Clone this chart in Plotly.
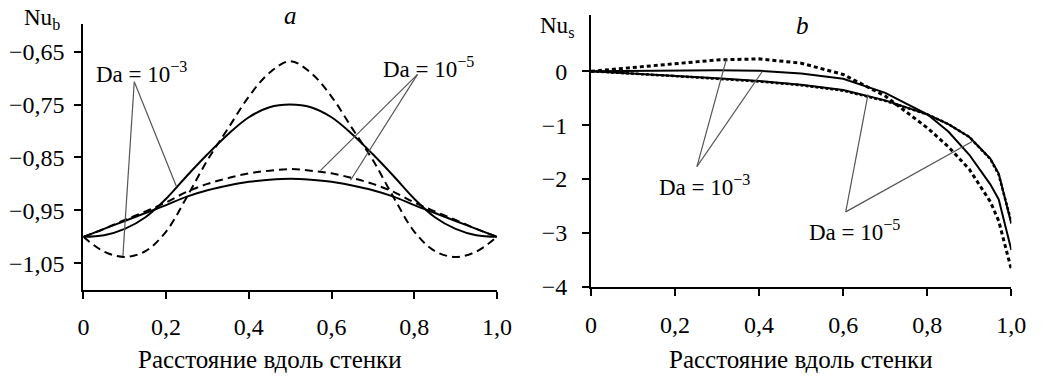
import plotly.graph_objects as go

# ---------------- data ----------------
x_a = [0.0, 0.05, 0.1, 0.15, 0.2, 0.25, 0.3, 0.35, 0.4, 0.45, 0.5,
       0.55, 0.6, 0.65, 0.7, 0.75, 0.8, 0.85, 0.9, 0.95, 1.0]
a_dash_1e3 = [-1.0, -1.028, -1.038, -1.027, -0.99, -0.925, -0.855, -0.795, -0.735, -0.69, -0.668,
              -0.69, -0.735, -0.795, -0.855, -0.925, -0.99, -1.027, -1.038, -1.028, -1.0]
a_solid_1e3 = [-1.0, -0.997, -0.985, -0.963, -0.928, -0.885, -0.844, -0.806, -0.774, -0.755, -0.75,
               -0.755, -0.774, -0.806, -0.844, -0.885, -0.928, -0.963, -0.985, -0.997, -1.0]
a_dash_1e5 = [-1.0, -0.985, -0.968, -0.952, -0.935, -0.915, -0.9, -0.889, -0.88, -0.875, -0.872,
              -0.875, -0.88, -0.889, -0.9, -0.915, -0.935, -0.952, -0.968, -0.985, -1.0]
a_solid_1e5 = [-1.0, -0.985, -0.97, -0.955, -0.94, -0.924, -0.912, -0.903, -0.896, -0.892, -0.89,
               -0.892, -0.896, -0.903, -0.912, -0.924, -0.94, -0.955, -0.97, -0.985, -1.0]

x_b = [0.0, 0.1, 0.2, 0.3, 0.4, 0.5, 0.6, 0.7, 0.8, 0.85, 0.9, 0.95, 0.97, 1.0]
b_dot_1e3 = [0.0, 0.07, 0.15, 0.21, 0.23, 0.15, -0.06, -0.46, -1.05, -1.4, -1.82, -2.42, -2.78, -3.68]
b_solid_1e3 = [0.0, 0.01, 0.02, 0.02, 0.01, -0.04, -0.14, -0.4, -0.8, -1.12, -1.55, -2.1, -2.38, -3.32]
b_solid_1e5 = [0.0, -0.04, -0.08, -0.13, -0.18, -0.25, -0.35, -0.54, -0.8, -0.98, -1.22, -1.62, -1.9, -2.83]
b_dash_1e5 = [0.0, -0.04, -0.09, -0.14, -0.19, -0.26, -0.36, -0.55, -0.8, -0.98, -1.22, -1.63, -1.92, -2.8]

x_ticks = [0, 0.2, 0.4, 0.6, 0.8, 1.0]
x_ticktext = ["0", "0,2", "0,4", "0,6", "0,8", "1,0"]
ya_ticks = [-0.65, -0.75, -0.85, -0.95, -1.05]
ya_ticktext = ["\u22120,65", "\u22120,75", "\u22120,85", "\u22120,95", "\u22121,05"]
yb_ticks = [0, -1, -2, -3, -4]
yb_ticktext = ["0", "\u22121", "\u22122", "\u22123", "\u22124"]

xtitle = "Расстояние вдоль стенки"

FONT = "Liberation Serif"
W, H = 1043, 376

fig = go.Figure()

def add(x, y, xa, ya, dash=None, width=2, shape="linear"):
    fig.add_trace(go.Scatter(x=x, y=y, mode="lines", xaxis=xa, yaxis=ya,
                             line=dict(color="black", width=width, dash=dash, shape=shape),
                             showlegend=False, hoverinfo="skip"))

add(x_a, a_solid_1e5, "x", "y", shape="spline")
add(x_a, a_dash_1e5, "x", "y", dash="8px,5px", shape="spline")
add(x_a, a_solid_1e3, "x", "y", shape="spline")
add(x_a, a_dash_1e3, "x", "y", dash="8px,5px", shape="spline")

add(x_b, b_solid_1e5, "x2", "y2")
add(x_b, b_dash_1e5, "x2", "y2", dash="3px,2px", width=2.5)
add(x_b, b_solid_1e3, "x2", "y2")
add(x_b, b_dot_1e3, "x2", "y2", dash="4px,3px", width=3)

axis_common = dict(showline=True, linecolor="black", linewidth=2, ticks="outside",
                   ticklen=7, tickwidth=2, tickcolor="black", showgrid=False, zeroline=False,
                   tickfont=dict(family=FONT, size=24, color="black"))

def px_x(p):
    return p / W

def px_y(p):
    return 1 - p / H

fig.update_layout(
    width=W, height=H, margin=dict(l=0, r=0, t=0, b=0),
    paper_bgcolor="white", plot_bgcolor="white",
    font=dict(family=FONT, size=22, color="black"),
    xaxis=dict(domain=[px_x(79), px_x(501)], range=[0, 1.0], tickvals=x_ticks,
               ticktext=x_ticktext, anchor="y", ticklabelstandoff=8, **axis_common),
    yaxis=dict(domain=[px_y(300), px_y(25)], range=[-1.0998, -0.598], tickvals=ya_ticks,
               ticktext=ya_ticktext, anchor="x", ticklabelstandoff=5, **axis_common),
    xaxis2=dict(domain=[px_x(597), px_x(1026)], range=[0, 1.0], tickvals=x_ticks,
                ticktext=x_ticktext, anchor="y2", ticklabelstandoff=8, **axis_common),
    yaxis2=dict(domain=[px_y(297), px_y(16)], range=[-4, 1.036], tickvals=yb_ticks,
                ticktext=yb_ticktext, anchor="x2", ticklabelstandoff=10, **axis_common),
)

annots = []
def text(x, y, s, xref="paper", yref="paper", italic=False, size=22, yanchor="middle"):
    annots.append(dict(x=x, y=y, xref=xref, yref=yref, text=s, showarrow=False,
                       xanchor="center", yanchor=yanchor,
                       font=dict(family=FONT, size=size, color="black",
                                 style="italic" if italic else "normal")))

text(px_x(36.5), px_y(20), "Nu<sub>b</sub>", size=23)
text(px_x(562), px_y(28), "Nu<sub>s</sub>", size=23)
text(px_x(290), 1.0, "a", italic=True, size=25, yanchor="top")
text(px_x(813), px_y(26), "b", italic=True, size=25)
text(px_x(269.5), px_y(372), xtitle, size=25)
text(px_x(811.7), px_y(372), xtitle, size=25)

text(0.1405, -0.6896, "Da = 10<sup>\u22123</sup>", "x", "y", size=23)
text(0.8337, -0.68, "Da = 10<sup>\u22125</sup>", "x", "y", size=23)
text(0.271, -2.12, "Da = 10<sup>\u22123</sup>", "x2", "y2", size=23)
text(0.627, -2.95, "Da = 10<sup>\u22125</sup>", "x2", "y2", size=23)

shapes = []
def leader(x0, y0, x1, y1, xref, yref):
    shapes.append(dict(type="line", x0=x0, y0=y0, x1=x1, y1=y1, xref=xref, yref=yref,
                       line=dict(color="#555555", width=1.2)))

leader(0.123, -0.707, 0.0955, -1.036, "x", "y")
leader(0.123, -0.707, 0.225, -0.905, "x", "y")
leader(0.808, -0.693, 0.573, -0.875, "x", "y")
leader(0.808, -0.693, 0.646, -0.893, "x", "y")
leader(0.252, -1.77, 0.322, 0.22, "x2", "y2")
leader(0.252, -1.77, 0.408, 0.0, "x2", "y2")
leader(0.606, -2.61, 0.659, -0.43, "x2", "y2")
leader(0.606, -2.61, 0.908, -1.30, "x2", "y2")

fig.update_layout(annotations=annots, shapes=shapes)
fig.write_html("out.html")
